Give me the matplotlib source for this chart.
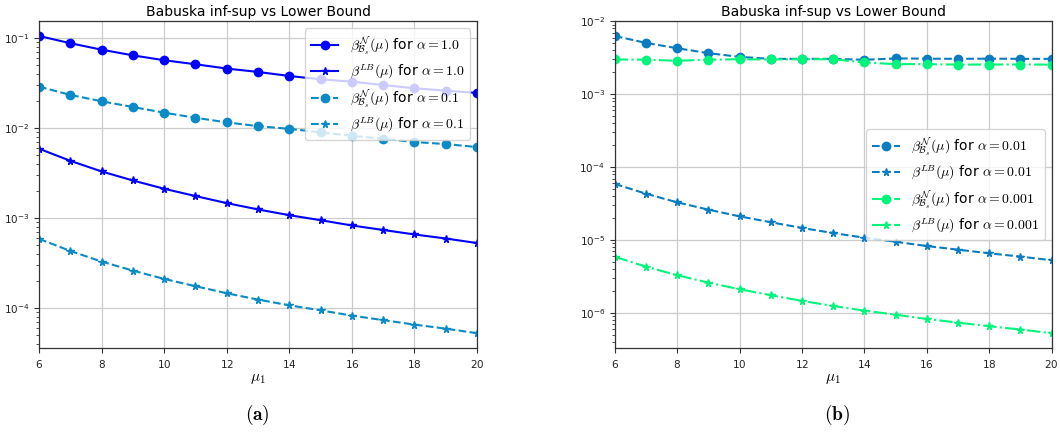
import matplotlib
matplotlib.use("Agg")
import matplotlib.pyplot as plt
from matplotlib.ticker import FuncFormatter

plt.rcParams["mathtext.fontset"] = "cm"
plt.rcParams["font.family"] = ["DejaVu Sans"]

mu1 = [6, 7, 8, 9, 10, 11, 12, 13, 14, 15, 16, 17, 18, 19, 20]

# alpha = 1.0
bn_a1 = [0.105, 0.0873, 0.074, 0.064, 0.0565, 0.051, 0.0457, 0.0419, 0.0378,
         0.0347, 0.0327, 0.0300, 0.0276, 0.0260, 0.0245]
lb_a1 = [5.9e-3, 4.33e-3, 3.3e-3, 2.62e-3, 2.12e-3, 1.76e-3, 1.47e-3, 1.25e-3,
         1.08e-3, 9.5e-4, 8.3e-4, 7.4e-4, 6.6e-4, 5.95e-4, 5.3e-4]
# alpha = 0.1
bn_a01 = [0.0288, 0.0233, 0.0198, 0.0171, 0.0148, 0.0130, 0.01155, 0.0105, 0.0098,
          0.00895, 0.0082, 0.0076, 0.0070, 0.00664, 0.00615]
lb_a01 = [5.9e-4, 4.33e-4, 3.3e-4, 2.62e-4, 2.12e-4, 1.76e-4, 1.47e-4, 1.25e-4,
          1.08e-4, 9.5e-5, 8.3e-5, 7.4e-5, 6.6e-5, 5.95e-5, 5.3e-5]
# alpha = 0.01
bn_a001 = [6.3e-3, 5.06e-3, 4.28e-3, 3.66e-3, 3.26e-3, 3.06e-3, 3.06e-3, 3.06e-3,
           2.97e-3, 3.1e-3, 3.08e-3, 3.06e-3, 3.08e-3, 3.06e-3, 3.06e-3]
lb_a001 = [5.9e-5, 4.33e-5, 3.3e-5, 2.62e-5, 2.12e-5, 1.76e-5, 1.47e-5, 1.25e-5,
           1.08e-5, 9.5e-6, 8.3e-6, 7.4e-6, 6.6e-6, 5.95e-6, 5.3e-6]
# alpha = 0.001
bn_a0001 = [3.0e-3, 2.98e-3, 2.88e-3, 2.98e-3, 3.02e-3, 3.0e-3, 3.02e-3, 3.02e-3,
            2.73e-3, 2.59e-3, 2.59e-3, 2.55e-3, 2.56e-3, 2.56e-3, 2.55e-3]
lb_a0001 = [5.9e-6, 4.33e-6, 3.3e-6, 2.62e-6, 2.12e-6, 1.76e-6, 1.47e-6, 1.25e-6,
            1.08e-6, 9.5e-7, 8.3e-7, 7.4e-7, 6.6e-7, 5.95e-7, 5.3e-7]

title = "Babuska inf-sup vs Lower Bound"
bn_tex = r"$\beta^{\mathcal{N}}_{\mathcal{B}_s}(\mu)$ for $\alpha = %s$"
lb_tex = r"$\beta^{LB}(\mu)$ for $\alpha = %s$"

c_a1 = "#0000ff"
c_a01 = "#0a8ac6"
c_a001 = "#0a7cc2"
c_a0001 = "#00f57a"

fig = plt.figure(figsize=(10.6, 4.4), dpi=100)
axL = fig.add_axes([0.0368, 0.209, 0.4132, 0.743])
axR = fig.add_axes([0.580, 0.209, 0.4120, 0.743])


def style(ax):
    ax.set_yscale("log")
    ax.set_xlim(6, 20)
    ax.set_xticks(range(6, 21, 2))
    ax.xaxis.set_major_formatter(FuncFormatter(lambda v, p: r"$\mathdefault{%d}$" % v))
    ax.tick_params(labelsize=7.5, length=3.5, width=0.8, colors="#333333", labelcolor="#222222")
    ax.tick_params(which="minor", length=2, width=0.6, colors="#333333")
    ax.grid(True, which="major", color="#cccccc", linewidth=0.9)
    for s in ax.spines.values():
        s.set_color("#333333")
        s.set_linewidth(0.9)
    ax.set_title(title, fontsize=10, pad=4)
    ax.set_xlabel(r"$\mu_1$", fontsize=11, labelpad=1)


axL.plot(mu1, bn_a1, "-", color=c_a1, marker="o", ms=6, lw=1.5, label=bn_tex % "1.0")
axL.plot(mu1, lb_a1, "-", color=c_a1, marker="*", ms=5.5, lw=1.5, label=lb_tex % "1.0")
axL.plot(mu1, bn_a01, "--", color=c_a01, marker="o", ms=6, lw=1.5, label=bn_tex % "0.1")
axL.plot(mu1, lb_a01, "--", color=c_a01, marker="*", ms=5.5, lw=1.5, label=lb_tex % "0.1")
style(axL)
axL.legend(loc="upper right", fontsize=10, handlelength=2.0, labelspacing=0.4)

axR.plot(mu1, bn_a001, "--", color=c_a001, marker="o", ms=6, lw=1.5, label=bn_tex % "0.01")
axR.plot(mu1, lb_a001, "--", color=c_a001, marker="*", ms=5.5, lw=1.5, label=lb_tex % "0.01")
axR.plot(mu1, bn_a0001, "-.", color=c_a0001, marker="o", ms=6, lw=1.5, label=bn_tex % "0.001")
axR.plot(mu1, lb_a0001, "-.", color=c_a0001, marker="*", ms=5.5, lw=1.5, label=lb_tex % "0.001")
style(axR)
axR.legend(loc="center right", fontsize=10, handlelength=2.0, labelspacing=0.4)

fig.text(0.243, 0.058, r"$\mathbf{(a)}$", ha="center", va="center", fontsize=14)
fig.text(0.79, 0.058, r"$\mathbf{(b)}$", ha="center", va="center", fontsize=14)

fig.savefig("out.png", dpi=100)
